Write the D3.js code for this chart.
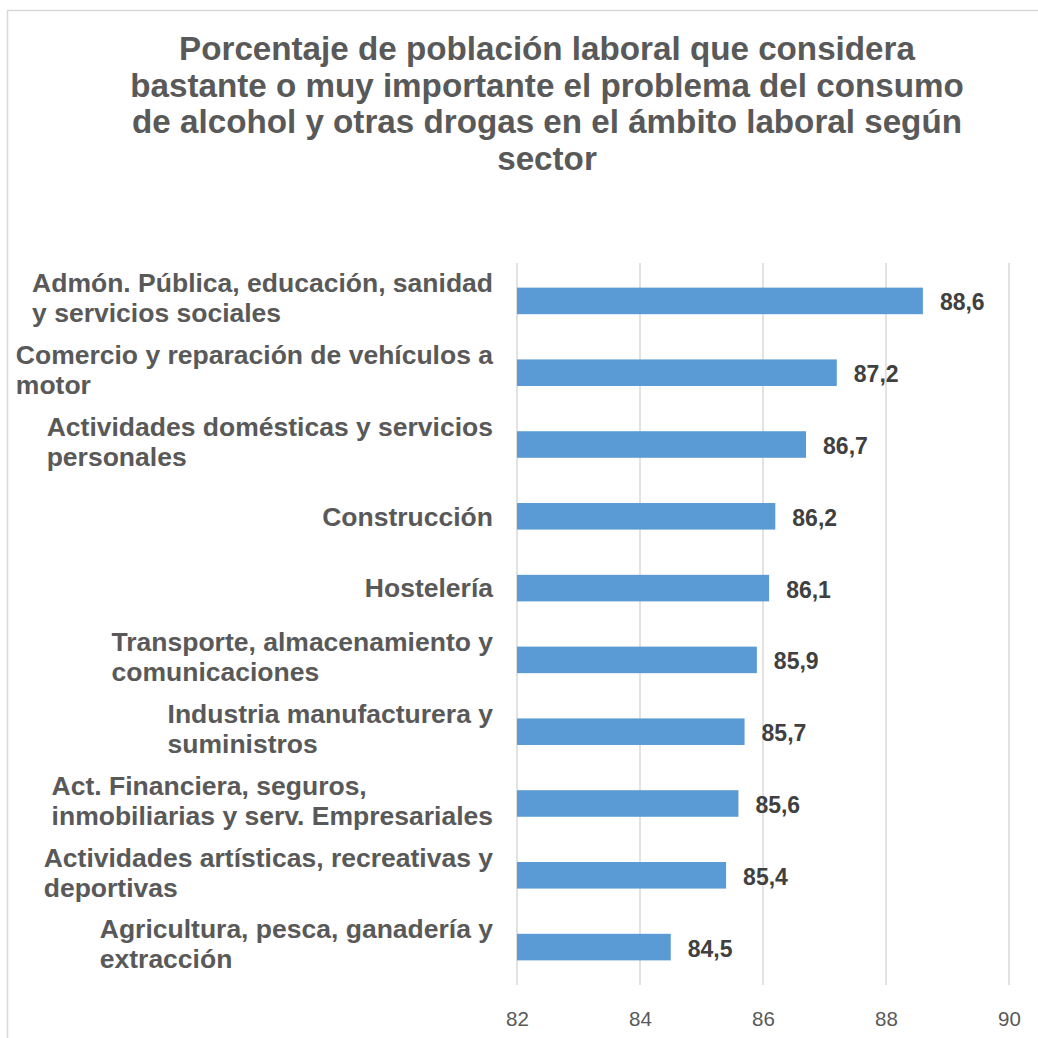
<!DOCTYPE html>
<html>
<head>
<meta charset="utf-8">
<script src="https://cdn.jsdelivr.net/npm/d3@7"></script>
<style>
  html, body { margin: 0; padding: 0; background: #fff; }
  svg { display: block; font-family: "Liberation Sans", Arial, sans-serif; }
</style>
</head>
<body>
<svg id="chart" width="1038" height="1038"></svg>
<script>
// Title, split into the lines it is drawn on
const titleLines = [
  "Porcentaje de población laboral que considera",
  "bastante o muy importante el problema del consumo",
  "de alcohol y otras drogas en el ámbito laboral según",
  "sector"
];

// Sectors (line breaks marked with "\n") and their percentages
const categories = [
  "Admón. Pública, educación, sanidad\ny servicios sociales",
  "Comercio y reparación de vehículos a\nmotor",
  "Actividades domésticas y servicios\npersonales",
  "Construcción",
  "Hostelería",
  "Transporte, almacenamiento y\ncomunicaciones",
  "Industria manufacturera y\nsuministros",
  "Act. Financiera, seguros,\ninmobiliarias y serv. Empresariales",
  "Actividades artísticas, recreativas y\ndeportivas",
  "Agricultura, pesca, ganadería y\nextracción"
];
const values = [88.6, 87.2, 86.7, 86.2, 86.1, 85.9, 85.7, 85.6, 85.4, 84.5];

// Axis ticks
const xTicks = [82, 84, 86, 88, 90];

const svg = d3.select("#chart");

// Chart frame
svg.append("rect")
  .attr("x", 7.5).attr("y", 10.5)
  .attr("width", 1100).attr("height", 1100)
  .attr("fill", "#fff")
  .attr("stroke", "#D9D9D9")
  .attr("stroke-width", 1.5);

// Title
svg.append("g")
  .selectAll("text")
  .data(titleLines)
  .join("text")
  .attr("x", 547)
  .attr("y", (d, i) => 60 + i * 36.5)
  .attr("text-anchor", "middle")
  .attr("font-size", 33.2)
  .attr("font-weight", "bold")
  .attr("fill", "#595959")
  .text(d => d);

const plot = { left: 517, right: 1009, top: 263, bottom: 985 };

const x = d3.scaleLinear()
  .domain([xTicks[0], xTicks[xTicks.length - 1]])
  .range([plot.left, plot.right]);

const y = d3.scaleBand()
  .domain(categories)
  .range([plot.top, plot.bottom])
  .paddingInner(0.63)
  .paddingOuter(0.343);

// Vertical gridlines
svg.append("g")
  .selectAll("line")
  .data(xTicks)
  .join("line")
  .attr("x1", d => x(d)).attr("x2", d => x(d))
  .attr("y1", plot.top).attr("y2", plot.bottom)
  .attr("stroke", "#D9D9D9")
  .attr("stroke-width", 1.5);

// Bottom axis tick labels
const xAxis = d3.axisBottom(x).tickValues(xTicks).tickSize(0).tickPadding(0);
const gx = svg.append("g")
  .attr("transform", `translate(0,${plot.bottom})`)
  .call(xAxis);
gx.select(".domain").remove();
gx.selectAll("text")
  .attr("y", 34)
  .attr("dy", "0.35em")
  .attr("font-size", 20.5)
  .attr("font-family", "\"Liberation Sans\", Arial, sans-serif")
  .attr("fill", "#595959");

// Bars
svg.append("g")
  .selectAll("rect")
  .data(values)
  .join("rect")
  .attr("x", x(xTicks[0]))
  .attr("y", (d, i) => y(categories[i]))
  .attr("width", d => x(d) - x(xTicks[0]))
  .attr("height", y.bandwidth())
  .attr("fill", "#5B9BD5");

// Value labels with decimal comma
const locale = d3.formatLocale({ decimal: ",", thousands: ".", grouping: [3], currency: ["", "€"] });
const fmt = locale.format(".1f");
svg.append("g")
  .selectAll("text")
  .data(values)
  .join("text")
  .attr("x", d => x(d) + 17)
  .attr("y", (d, i) => y(categories[i]) + y.bandwidth() / 2 + 1.5)
  .attr("dy", "0.35em")
  .attr("font-size", 23)
  .attr("font-weight", "bold")
  .attr("fill", "#404040")
  .text(d => fmt(d));

// Category labels: each block sits right-aligned against the plot, lines left-aligned within it
const labelRight = 493;
const lineHeight = 30;
const labels = svg.append("g")
  .selectAll("g")
  .data(categories)
  .join("g");

labels.each(function (cat) {
  const g = d3.select(this);
  const lines = cat.split("\n");
  const cy = y(cat) + y.bandwidth() / 2 - 3 * (lines.length - 1);
  const texts = g.selectAll("text")
    .data(lines)
    .join("text")
    .attr("y", (d, i) => cy + (i - (lines.length - 1) / 2) * lineHeight)
    .attr("dy", "0.35em")
    .attr("font-size", 26.5)
    .attr("font-weight", "bold")
    .attr("fill", "#595959")
    .text(d => d);
  let maxW = 0;
  texts.each(function () { maxW = Math.max(maxW, this.getComputedTextLength()); });
  texts.attr("x", labelRight - maxW);
});
</script>
</body>
</html>
